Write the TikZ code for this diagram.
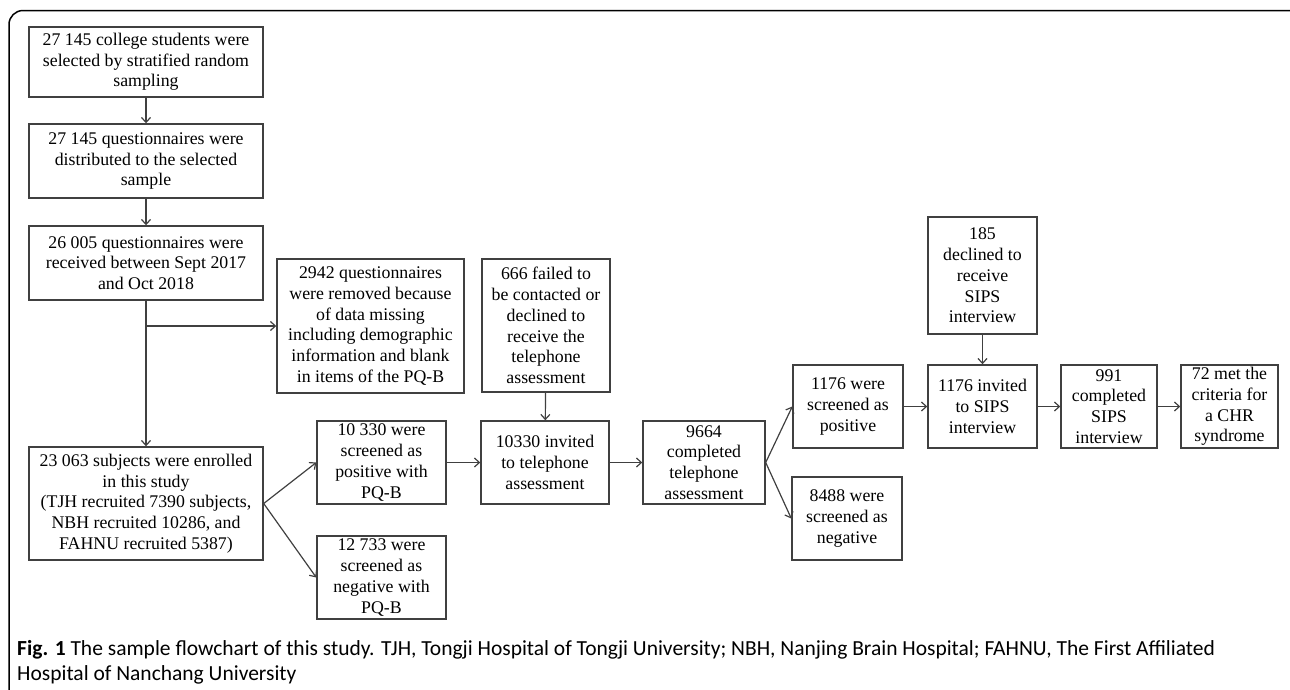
\documentclass[tikz,border=0pt]{standalone}
\usepackage{fontspec}
\setmainfont{Liberation Serif}
\newfontfamily\capfont{Carlito}
\usepackage{tikz}
\usepackage{xcolor}
\usetikzlibrary{positioning,arrows.meta}

\begin{document}
\begin{tikzpicture}[
    x=1pt, y=-1pt,
    box/.style={draw=black!75, line width=1.4pt, inner sep=0pt, align=center,
        font=\fontsize{17.8pt}{20.7pt}\selectfont},
    size/.style 2 args={minimum width=#1pt, minimum height=#2pt},
    arrow/.style={-{Straight Barb[length=5pt,width=9pt]}, line width=1.2pt, draw=black!75}
]
\useasboundingbox (0,0) rectangle (1290,689);

% Frame
\draw[line width=1.5pt, rounded corners=14pt] (9,720) -- (9,10.5) -- (1302,10.5) -- (1302,720);

% Left column
\node[box, size={234}{70}] (sel) at (146, 62) {27 145 college students were\\selected by stratified random\\sampling};
\node[box, size={234}{74}] (dist) at (146, 161) {27 145 questionnaires were\\distributed to the selected\\sample};
\node[box, size={234}{74}] (recv) at (146, 263) {26 005 questionnaires were\\received between Sept 2017\\and Oct 2018};
\node[box, size={234}{113}] (enr) at (146, 503.5) {23 063 subjects were enrolled\\in this study\\(TJH recruited 7390 subjects,\\NBH recruited 10286, and\\FAHNU recruited 5387)};

% Exclusions
\node[box, size={187}{134}] (rem) at (370.5, 326) {2942 questionnaires\\were removed because\\of data missing\\including demographic\\information and blank\\in items of the PQ-B};
\node[box, size={128}{133}] (fail) at (546, 325.5) {666 failed to\\be contacted or\\declined to\\receive the\\telephone\\assessment};
\node[box, size={109}{117}] (dec) at (982.5, 275.5) {185\\declined to\\receive\\SIPS\\interview};

% PQ-B screening
\node[box, size={129}{83}] (pos) at (381.5, 462.5) {10 330 were\\screened as\\positive with\\PQ-B};
\node[box, size={129}{83}] (neg) at (381.5, 577.5) {12 733 were\\screened as\\negative with\\PQ-B};

% Telephone assessment
\node[box, size={128}{83}] (inv) at (545, 462.5) {10330 invited\\to telephone\\assessment};
\node[box, size={122}{83}] (comp) at (704, 462.5) {9664\\completed\\telephone\\assessment};
\node[box, size={110}{83}] (spos) at (848, 406.5) {1176 were\\screened as\\positive};
\node[box, size={110}{83}] (sneg) at (847, 518.5) {8488 were\\screened as\\negative};

% SIPS interview
\node[box, size={109}{83}] (sinv) at (982.5, 406.5) {1176 invited\\to SIPS\\interview};
\node[box, size={96}{83}] (sips) at (1109, 406.5) {991\\completed\\SIPS\\interview};
\node[box, size={97}{83}] (chr) at (1229.5, 406.5) {72 met the\\criteria for\\a CHR\\syndrome};

% Arrows
\coordinate (split) at (recv.south |- rem.west);
\draw[arrow] (sel) -- (dist);
\draw[arrow] (dist) -- (recv);
\draw[arrow] (recv) -- (enr);
\draw[arrow] (split) -- (rem);
\draw[arrow] (enr.east) -- (pos.west);
\draw[arrow] (enr.east) -- (neg.west);
\draw[arrow] (pos) -- (inv);
\draw[arrow] (fail) -- (inv);
\draw[arrow] (inv) -- (comp);
\draw[arrow] (comp.east) -- (spos.west);
\draw[arrow] (comp.east) -- (sneg.west);
\draw[arrow] (spos) -- (sinv);
\draw[arrow] (dec) -- (sinv);
\draw[arrow] (sinv) -- (sips);
\draw[arrow] (sips) -- (chr);

% Caption
\node[anchor=base west, inner sep=0pt, align=left, font=\capfont\fontsize{21.5pt}{25pt}\selectfont] (cap) at (17, 680)
    {\textbf{Fig. 1} The sample flowchart of this study. TJH, Tongji Hospital of Tongji University; NBH, Nanjing Brain Hospital; FAHNU, The First Affiliated\\Hospital of Nanchang University};

\end{tikzpicture}
\end{document}
